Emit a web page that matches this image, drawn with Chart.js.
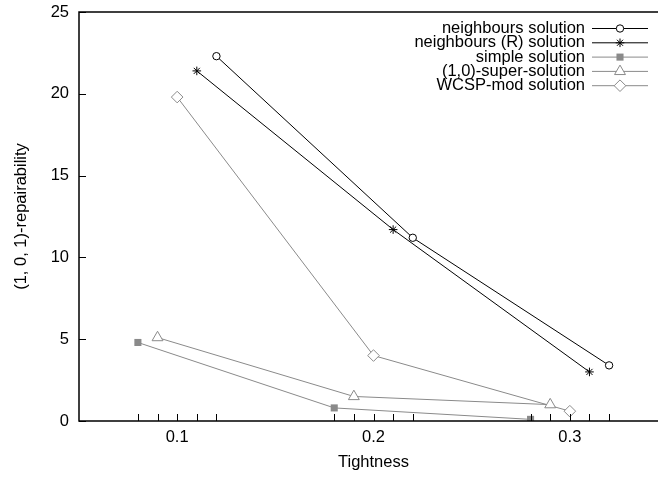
<!DOCTYPE html>
<html>
<head>
<meta charset="utf-8">
<script src="https://cdn.jsdelivr.net/npm/chart.js@4.4.0/dist/chart.umd.min.js"></script>
<style>
html, body { margin: 0; padding: 0; background: #fff; overflow: hidden; }
#wrap { width: 680px; height: 477px; }
</style>
</head>
<body>
<div id="wrap"><canvas id="chart" width="680" height="477"></canvas></div>
<script>
// Data (tightness -> repairability)
var neighboursX = [0.12, 0.22, 0.32];
var neighboursY = [22.3, 11.2, 3.4];
var neighboursRX = [0.11, 0.21, 0.31];
var neighboursRY = [21.4, 11.7, 3.0];
var simpleX = [0.08, 0.18, 0.28];
var simpleY = [4.8, 0.8, 0.1];
var superX = [0.09, 0.19, 0.29];
var superY = [5.1, 1.5, 1.0];
var wcspX = [0.10, 0.20, 0.30];
var wcspY = [19.8, 4.0, 0.6];

var seriesNames = ['neighbours solution', 'neighbours (R) solution', 'simple solution',
                   '(1,0)-super-solution', 'WCSP-mod solution'];
var xTickLabels = [0.1, 0.2, 0.3];
var yTicks = [0, 5, 10, 15, 20, 25];

var black = '#000000';
var grey = '#8a8a8a';

// Function to zip x and y arrays into points
function toPoints(xs, ys) {
    var pts = [];
    for (var i = 0; i < xs.length; i++) {
        pts.push({x: xs[i], y: ys[i]});
    }
    return pts;
}

function makeSet(label, xs, ys, color, style, radius, fill, width) {
    return {
        label: label,
        data: toPoints(xs, ys),
        showLine: true,
        borderColor: color,
        borderWidth: 1,
        pointStyle: style,
        pointRadius: radius,
        pointBorderColor: color,
        pointBackgroundColor: fill,
        pointBorderWidth: width
    };
}

// all x positions that get a tick mark (gnuplot puts one at each data x)
var allX = [].concat(simpleX, superX, wcspX, neighboursRX, neighboursX).sort(function(a, b) { return a - b; });

// Plugin: frame, inward ticks and the gnuplot style key
var gnuplotLook = {
    id: 'gnuplotLook',
    afterDraw: function(chart) {
        var ctx = chart.ctx;
        var area = chart.chartArea;
        var xs = chart.scales.x;
        var ys = chart.scales.y;
        ctx.save();
        ctx.strokeStyle = black;
        ctx.lineWidth = 1.5;
        ctx.beginPath();
        ctx.moveTo(chart.width, area.top);
        ctx.lineTo(area.left, area.top);
        ctx.lineTo(area.left, area.bottom);
        ctx.lineTo(chart.width, area.bottom);
        ctx.stroke();

        ctx.lineWidth = 1;
        ctx.beginPath();
        allX.forEach(function(v) {
            var px = Math.round(xs.getPixelForValue(v)) + 0.5;
            ctx.moveTo(px, area.bottom);
            ctx.lineTo(px, area.bottom - 7);
        });
        yTicks.forEach(function(v) {
            var py = Math.round(ys.getPixelForValue(v)) + 0.5;
            ctx.moveTo(area.left, py);
            ctx.lineTo(area.left + 7, py);
        });
        ctx.stroke();

        // key
        ctx.font = '16.5px "Liberation Sans", Arial, sans-serif';
        ctx.textAlign = 'right';
        ctx.textBaseline = 'middle';
        chart.data.datasets.forEach(function(ds, i) {
            var y = area.top + 16.5 + i * 14.3;
            ctx.fillStyle = black;
            ctx.fillText(ds.label, area.right - 83, y);
            ctx.strokeStyle = ds.borderColor;
            ctx.lineWidth = 1;
            ctx.beginPath();
            ctx.moveTo(area.right - 76, y);
            ctx.lineTo(area.right - 20, y);
            ctx.stroke();
            ctx.fillStyle = ds.pointBackgroundColor;
            ctx.strokeStyle = ds.pointBorderColor;
            ctx.lineWidth = ds.pointBorderWidth;
            Chart.helpers.drawPoint(ctx, {
                pointStyle: ds.pointStyle,
                rotation: 0,
                radius: ds.pointRadius,
                borderWidth: ds.pointBorderWidth
            }, area.right - 48, y);
        });
        ctx.restore();
    }
};

Chart.defaults.font.family = '"Liberation Sans", Arial, sans-serif';
Chart.defaults.font.size = 16.5;
Chart.defaults.color = '#000';

var ctx = document.getElementById('chart').getContext('2d');
var chart = new Chart(ctx, {
    type: 'scatter',
    data: {
        datasets: [
            makeSet(seriesNames[0], neighboursX, neighboursY, black, 'circle', 3.7, '#ffffff', 1),
            makeSet(seriesNames[1], neighboursRX, neighboursRY, black, 'star', 4.3, black, 1),
            makeSet(seriesNames[2], simpleX, simpleY, grey, 'rect', 5, grey, 0),
            makeSet(seriesNames[3], superX, superY, grey, 'triangle', 6.3, '#ffffff', 1),
            makeSet(seriesNames[4], wcspX, wcspY, grey, 'rectRot', 5.8, '#ffffff', 1)
        ]
    },
    options: {
        responsive: false,
        animation: false,
        devicePixelRatio: 1,
        layout: { padding: { left: 0, right: 12, top: 12, bottom: 0 } },
        plugins: {
            legend: { display: false },
            tooltip: { enabled: false }
        },
        scales: {
            x: {
                type: 'linear',
                min: 0.05,
                max: 0.35,
                grid: { display: false, drawTicks: false },
                border: { display: false },
                afterBuildTicks: function(scale) {
                    scale.ticks = allX.map(function(v) { return {value: v}; });
                },
                afterFit: function(scale) {
                    scale.height = 56;
                    scale.paddingLeft = 0;
                    scale.paddingRight = 0;
                },
                ticks: {
                    autoSkip: false,
                    maxRotation: 0,
                    padding: 7,
                    callback: function(value) {
                        for (var i = 0; i < xTickLabels.length; i++) {
                            if (Math.abs(xTickLabels[i] - value) < 1e-6) return xTickLabels[i].toFixed(1);
                        }
                        return '';
                    }
                },
                title: { display: true, text: 'Tightness', padding: { top: 0, bottom: 5 } }
            },
            y: {
                min: 0,
                max: 25,
                grid: { display: false, drawTicks: false },
                border: { display: false },
                afterBuildTicks: function(scale) {
                    scale.ticks = yTicks.map(function(v) { return {value: v}; });
                },
                afterFit: function(scale) {
                    scale.width = 79;
                    // keep the tick padding from pushing the plot area down
                    scale.paddingTop = 0;
                    scale.paddingBottom = 0;
                },
                ticks: { padding: 10 },
                title: { display: true, text: '(1, 0, 1)-repairability', padding: { top: 12, bottom: 0 } }
            }
        }
    },
    plugins: [gnuplotLook]
});
</script>
</body>
</html>
